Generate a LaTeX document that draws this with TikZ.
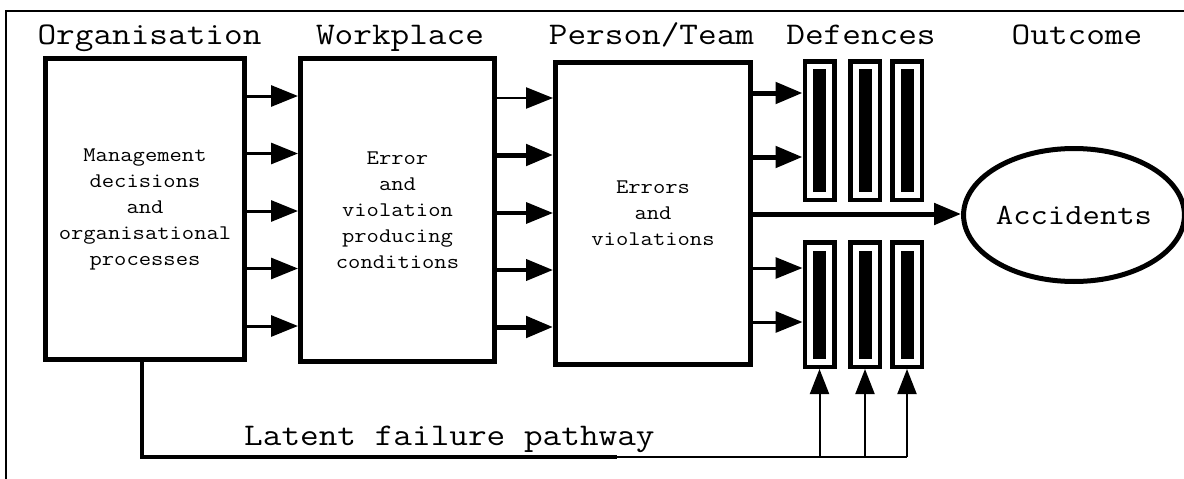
\documentclass[tikz,border=0pt]{standalone}
\usepackage{fontspec}
\newfontfamily\courfont{Latin Modern Mono}[FakeStretch=1.15]
\usetikzlibrary{arrows.meta,shapes.geometric}

\begin{document}
\begin{tikzpicture}[x=1pt,y=-1pt,
  heading/.style={font=\courfont\fontsize{31.5}{36}\selectfont, anchor=base, inner sep=0pt},
  stage/.style={draw, line width=5pt, inner sep=0pt, align=center,
                font=\courfont\fontsize{20.8}{26}\selectfont},
  barframe/.style={draw, line width=4.5pt, inner sep=0pt, minimum width=29.5pt},
  barcore/.style={fill=black, inner sep=0pt, minimum width=13pt},
  flow/.style={-{Triangle[length=27pt,width=21pt]}, line width=3pt},
  rise/.style={-{Triangle[length=25pt,width=19pt]}, line width=2pt},
  outcome/.style={draw, ellipse, line width=5pt, inner sep=0pt,
                  font=\courfont\fontsize{29.3}{34}\selectfont}
]
\useasboundingbox (0,0) rectangle (1184,479);

% outer frame (top and left edges)
\draw[line width=1.8pt] (1184,11) -- (6,11) -- (6,479);

% column headings
\node[heading] (h1) at (149.5,44) {Organisation};
\node[heading] (h2) at (400,44)   {Workplace};
\node[heading] (h3) at (651.5,44) {Person/Team};
\node[heading] (h4) at (861,44)   {Defences};
\node[heading] (h5) at (1077,44)  {Outcome};

% stage boxes
\node[stage, minimum width=199pt, minimum height=301pt] (b1) at (145,209)
  {Management\\decisions\\and\\organisational\\processes};
\node[stage, minimum width=194pt, minimum height=303pt] (b2) at (397.5,210)
  {Error\\and\\violation\\producing\\conditions};
\node[stage, minimum width=195pt, minimum height=302pt] (b3) at (653,213.5)
  {Errors\\and\\violations};

% defence barriers, upper and lower group
\foreach \i/\x in {1/819.5,2/865,3/907}{
  \node[barframe, minimum height=138.5pt] (bu\i) at (\x,130.5) {};
  \node[barcore, minimum height=123pt] (cu\i) at (\x,130.5) {};
  \node[barframe, minimum height=124.5pt] (bl\i) at (\x,304.5) {};
  \node[barcore, minimum height=108pt] (cl\i) at (\x,304.5) {};
}

% outcome
\node[outcome, minimum width=167pt, minimum height=133pt] (acc) at (1074,215) {Accidents};

% organisation -> workplace
\foreach \y in {96,153.5,211,268.5,326}
  \draw[flow] (b1.east |- 0,\y) -- (b2.west |- 0,\y);

% workplace -> person/team
\foreach \y/\w in {98/2.5,155/5,213/3.5,270/4,327/5}
  \draw[flow, line width=\w pt] (b2.east |- 0,\y) -- (b3.west |- 0,\y);

% person/team -> defences
\draw[flow, line width=5pt] (b3.east |- 0,93)  -- (bu1.west |- 0,93);
\draw[flow, line width=5pt] (b3.east |- 0,157) -- (bu1.west |- 0,157);
\draw[flow] (b3.east |- 0,268) -- (bl1.west |- 0,268);
\draw[flow] (b3.east |- 0,322) -- (bl1.west |- 0,322);

% person/team -> accidents
\draw[flow, line width=5pt] (b3.east |- 0,214) -- (acc.west |- 0,214);

% latent failure pathway
\coordinate (lp0) at (b1.south -| 142,0);
\coordinate (lp1) at (142,457);
\coordinate (lp2) at (617,457);
\coordinate (lp3) at (bl3.south |- 0,457);
\draw[line width=4.5pt] (lp0) -- (lp1) -- (lp2);
\draw[line width=2.5pt] (lp2) -- (lp3);
\foreach \i in {1,2,3}{
  \coordinate (j\i) at (bl\i.south |- 0,457);
  \draw[rise] (j\i) -- (bl\i.south);
}
\node[font=\courfont\fontsize{31.5}{36}\selectfont, anchor=base west, inner sep=0pt]
  (lat) at (244,445) {Latent failure pathway};
\end{tikzpicture}
\end{document}
